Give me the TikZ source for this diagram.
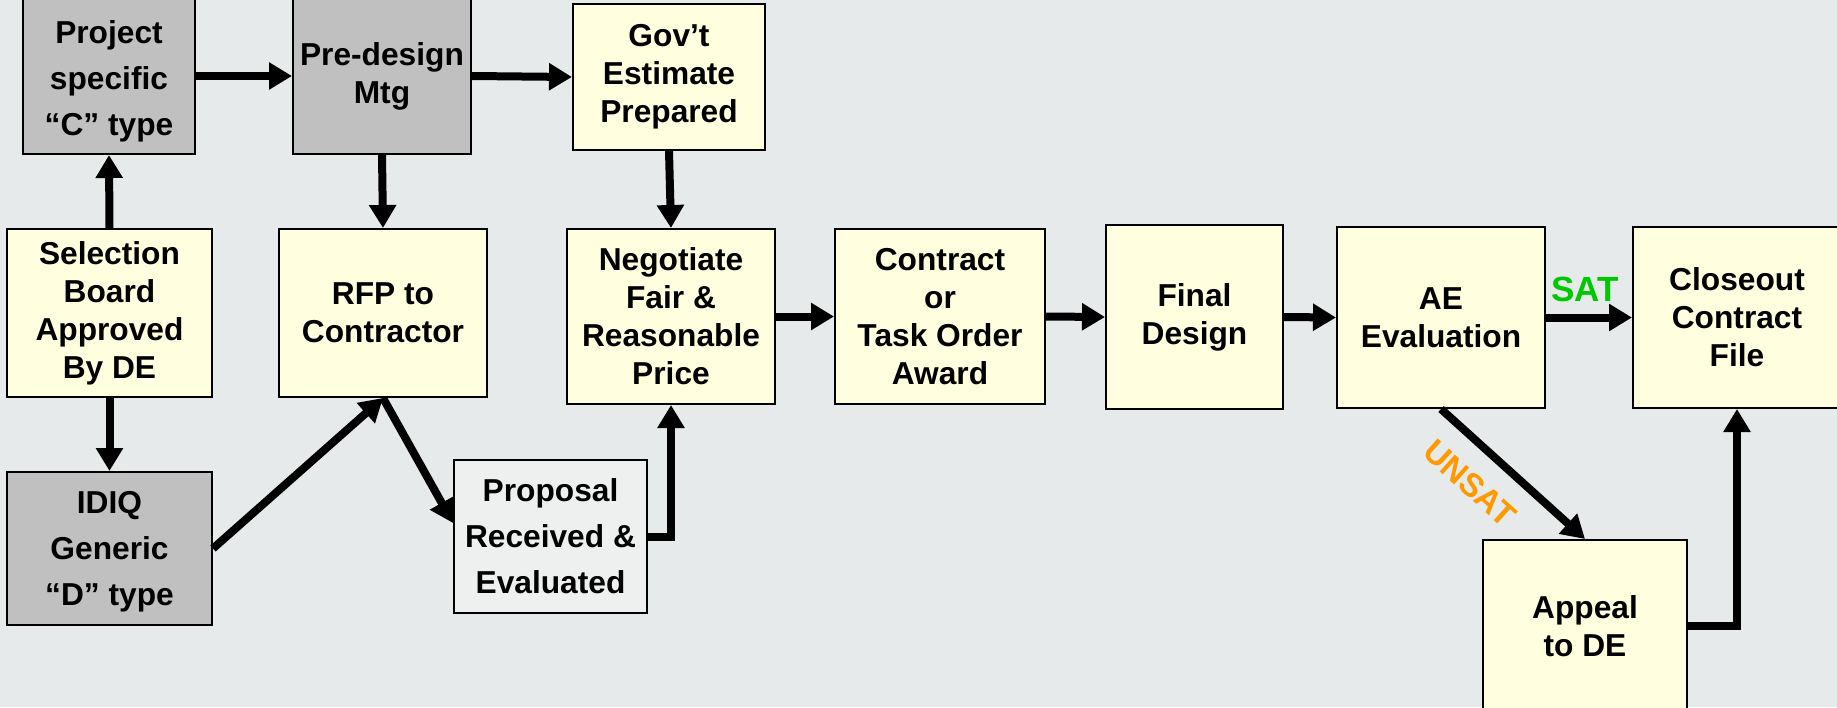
\documentclass[tikz,border=0pt]{standalone}
\usepackage{fontspec}
\setmainfont{Liberation Sans}
\usetikzlibrary{arrows.meta,calc}
\definecolor{bgc}{HTML}{E7EAEA}
\definecolor{creamc}{HTML}{FFFFE0}
\definecolor{greyc}{HTML}{C0C0C0}
\definecolor{propc}{HTML}{EEF0EF}
\definecolor{satc}{HTML}{00C800}
\definecolor{unsatc}{HTML}{FF9900}
\begin{document}
\begin{tikzpicture}[x=1pt,y=-1pt,
  box/.style={draw=black,line width=2pt,inner sep=0pt,align=center,
    font=\bfseries\fontsize{31.7}{38}\selectfont},
  cream/.style={box,fill=creamc},
  grey/.style={box,fill=greyc},
  wide/.style={font=\bfseries\fontsize{31.7}{46}\selectfont},
  arr/.style={line width=8pt,-{Triangle[length=23pt,width=26pt]}},
  lbl/.style={inner sep=0pt,font=\bfseries\fontsize{33}{36}\selectfont}
]
\useasboundingbox (0,0) rectangle (1837,707);
\fill[bgc] (0,0) rectangle (1837,707);

% nodes
\node[grey,minimum width=172pt,minimum height=156pt] (proj) at (109,76) {};
\node[wide,align=center,inner sep=0pt] (projt) at (109,81) {Project\\specific\\“C” type};
\node[grey,minimum width=178pt,minimum height=156pt] (pre) at (382,76) {Pre-design\\Mtg};
\node[cream,minimum width=192pt,minimum height=146pt] (gov) at (669,77) {Gov’t\\Estimate\\Prepared};
\node[cream,minimum width=205pt,minimum height=168pt] (sel) at (109.5,313) {Selection\\Board\\Approved\\By DE};
\node[cream,minimum width=208pt,minimum height=168pt] (rfp) at (383,313) {RFP to\\Contractor};
\node[cream,minimum width=208pt,minimum height=175pt] (neg) at (671,316.5) {Negotiate\\Fair \&\\Reasonable\\Price};
\node[cream,minimum width=210pt,minimum height=175pt] (con) at (940,316.5) {Contract\\or\\Task Order\\Award};
\node[cream,minimum width=177pt,minimum height=184pt] (fin) at (1194.5,317) {Final\\Design};
\node[cream,minimum width=208pt,minimum height=181pt] (ae) at (1441,317.5) {AE\\Evaluation};
\node[cream,minimum width=208pt,minimum height=181pt] (clo) at (1737,317.5) {Closeout\\Contract\\File};
\node[grey,minimum width=205pt,minimum height=153pt] (idiq) at (109.5,548.5) {};
\node[wide,align=center,inner sep=0pt] (idiqt) at (109.5,552) {IDIQ\\Generic\\“D” type};
\node[box,fill=propc,wide,minimum width=193pt,minimum height=153pt] (prop) at (550.5,536.5) {Proposal\\Received \&\\Evaluated};
\node[cream,minimum width=204pt,minimum height=172pt] (app) at (1585,626) {Appeal\\to DE};

% labels
\node[lbl,text=satc,font=\bfseries\fontsize{35}{38}\selectfont] (sat) at (1585,289) {SAT};
\node[lbl,text=unsatc,rotate=-42] (unsat) at (1470,483) {UNSAT};

% connectors
\draw[arr] (sel.north) -- (proj.south);
\draw[arr] (sel.south) -- (idiq.north);
\draw[arr] (proj.east) -- (pre.west);
\draw[arr] (pre.east) -- (gov.west);
\draw[arr] (pre.south) -- (rfp.north);
\draw[arr] (gov.south) -- (neg.north);
\draw[arr] (idiq.east) -- (rfp.south);
\draw[arr] (rfp.south) -- ($(prop.west)+(0,-13.5)$);
\draw[arr] (prop.east) -| (neg.south);
\draw[arr] (neg.east) -- (con.west);
\draw[arr] (con.east) -- (fin.west);
\draw[arr] (fin.east) -- (ae.west);
\draw[arr] (ae.east) -- (clo.west);
\draw[arr] (ae.south) -- (app.north);
\draw[arr] (app.east) -| (clo.south);
\end{tikzpicture}
\end{document}
